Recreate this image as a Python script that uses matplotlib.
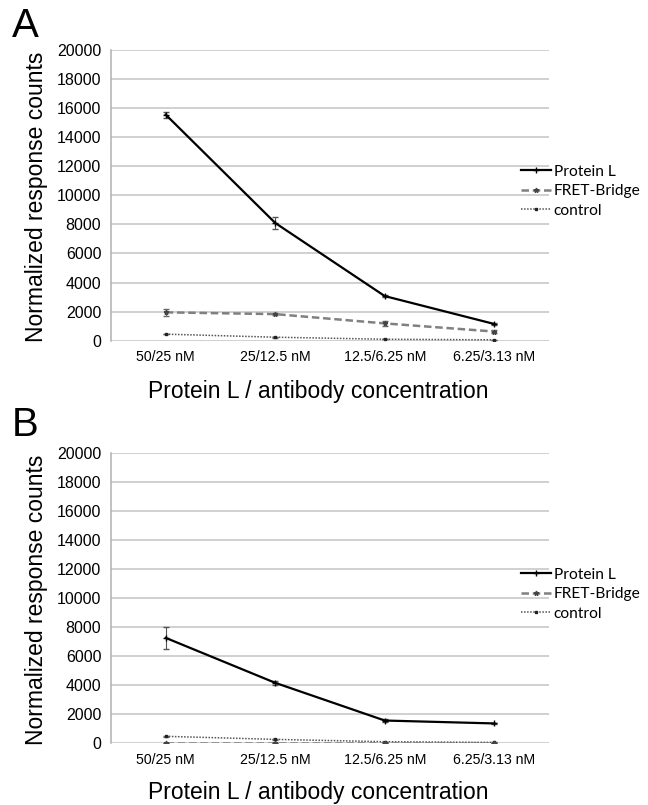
import matplotlib
matplotlib.use("Agg")
import matplotlib.pyplot as plt
from matplotlib.lines import Line2D
import numpy as np

categories = ["50/25 nM", "25/12.5 nM", "12.5/6.25 nM", "6.25/3.13 nM"]
series_names = ["Protein L", "FRET-Bridge", "control"]

# Panel A
a_protein = [15550, 8100, 3070, 1150]
a_protein_err = [200, 420, 60, 60]
a_fret = [1950, 1830, 1190, 630]
a_fret_err = [230, 60, 170, 80]
a_control = [450, 240, 100, 60]
a_control_err = [20, 20, 10, 10]

# Panel B
b_protein = [7270, 4170, 1570, 1370]
b_protein_err = [780, 130, 110, 40]
b_fret = [40, 40, 40, 40]
b_fret_err = [10, 10, 10, 10]
b_control = [480, 270, 110, 60]
b_control_err = [20, 15, 10, 10]

yticks = [0, 2000, 4000, 6000, 8000, 10000, 12000, 14000, 16000, 18000, 20000]

W, H = 648, 805
fig = plt.figure(figsize=(W / 100, H / 100), dpi=100)

tick_font = ["Liberation Sans", "DejaVu Sans"]
main_font = ["Liberation Sans", "DejaVu Sans"]
legend_font = ["Lato", "DejaVu Sans"]

styles = [
    dict(color="black", lw=1.6, ls="-", marker="+", ms=4, mfc="black", mec="black"),
    dict(color="#808080", lw=1.8, ls=(0, (3, 1.5)), marker="*", ms=3.5, mfc="#444444", mec="#444444"),
    dict(color="#555555", lw=1.1, ls=(0, (1, 1)), marker="s", ms=2, mfc="#222222", mec="#222222"),
]
err_colors = ["#555555", "#666666", "#666666"]

def px_axes(left, right, top, bottom):
    return [left / W, 1 - bottom / H, (right - left) / W, (bottom - top) / H]

def draw_panel(ax, prot, prot_e, fret, fret_e, ctrl, ctrl_e):
    x = np.arange(len(categories))
    data = [(prot, prot_e), (fret, fret_e), (ctrl, ctrl_e)]
    for i, (vals, errs) in enumerate(data):
        ax.errorbar(x, vals, yerr=errs, capsize=2, elinewidth=0.8, ecolor=err_colors[i],
                    zorder=4 - i, **styles[i])
    ax.set_xlim(-0.5, len(categories) - 0.5)
    ax.set_ylim(0, 20000)
    ax.set_yticks(yticks)
    ax.set_yticklabels([str(v) for v in yticks], family=tick_font, fontsize=11.5)
    ax.set_xticks(x)
    ax.set_xticklabels(categories, family=tick_font, fontsize=10.2)
    ax.tick_params(axis="both", length=0)
    ax.tick_params(axis="y", pad=7)
    ax.tick_params(axis="x", pad=7)
    ax.grid(axis="y", color="#c4c4c4", lw=1.1)
    ax.set_axisbelow(True)
    for s in ["top", "right", "bottom"]:
        ax.spines[s].set_visible(False)
    ax.spines["left"].set_color("#b0b0b0")
    ax.spines["left"].set_linewidth(1.1)
    handles = [Line2D([], [], **styles[i]) for i in range(3)]
    ax.legend(handles, series_names, loc="upper left", bbox_to_anchor=(0.936, 0.605),
              frameon=False, prop={"family": legend_font, "size": 11.2}, handlelength=1.9,
              handletextpad=0.2, labelspacing=0.35, borderpad=0, borderaxespad=0,
              numpoints=1)
    return ax

axA = fig.add_axes(px_axes(111, 549, 50, 340.7))
draw_panel(axA, a_protein, a_protein_err, a_fret, a_fret_err, a_control, a_control_err)
axB = fig.add_axes(px_axes(111, 549, 453.3, 743.3))
draw_panel(axB, b_protein, b_protein_err, b_fret, b_fret_err, b_control, b_control_err)

for ax, cy in [(axA, 197), (axB, 600)]:
    fig.text(37 / W, 1 - cy / H, "Normalized response counts", rotation=90,
             ha="center", va="center", family=main_font, fontsize=16.5)

fig.text(318 / W, 1 - 391 / H, "Protein L / antibody concentration", ha="center", va="center",
         family=main_font, fontsize=16.5)
fig.text(318 / W, 1 - 792 / H, "Protein L / antibody concentration", ha="center", va="center",
         family=main_font, fontsize=16.5)

fig.text(12 / W, 1 - 26 / H, "A", ha="left", va="center", family=main_font, fontsize=29)
fig.text(12 / W, 1 - 425 / H, "B", ha="left", va="center", family=main_font, fontsize=29)

fig.savefig("out.png", dpi=100, facecolor="white")
